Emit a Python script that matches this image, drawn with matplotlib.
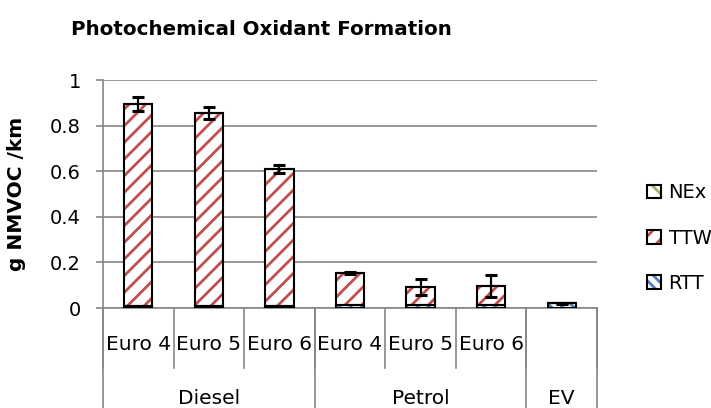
import numpy as np
import matplotlib
matplotlib.use("Agg")
import matplotlib.pyplot as plt
from matplotlib.patches import Patch
from matplotlib.legend_handler import HandlerTuple

# ---- data ----
sub_labels = ["Euro 4", "Euro 5", "Euro 6", "Euro 4", "Euro 5", "Euro 6", ""]
groups = ["Diesel", "Petrol", "EV"]
group_sizes = [3, 3, 1]
rtt = [0.008, 0.008, 0.008, 0.012, 0.012, 0.012, 0.020]
ttw = [0.887, 0.847, 0.602, 0.141, 0.080, 0.084, 0.0]
nex = [0.0, 0.0, 0.0, 0.0, 0.0, 0.0, 0.0]
err = [0.030, 0.025, 0.018, 0.005, 0.037, 0.048, 0.004]

plt.rcParams['font.family'] = ['DejaVu Sans']
plt.rcParams['hatch.linewidth'] = 2.0

GRAY = '#868686'
RED = '#C0504D'
BLUE = '#4F81BD'
GREEN = '#9BBB59'

fig = plt.figure(figsize=(7.11, 4.08), dpi=100)
ax = fig.add_axes([103/711, 100/408, 494/711, 228/408])

x = np.arange(len(sub_labels)) + 0.5
w = 0.4
rtt = np.array(rtt); ttw = np.array(ttw); nex = np.array(nex)

series = [("RTT", rtt, BLUE, "\\\\\\"), ("TTW", ttw, RED, "//"), ("NEx", nex, GREEN, "\\\\")]
bottom = np.zeros(len(x))
for name, vals, col, hatch in series:
    ax.bar(x, vals, w, bottom=bottom, color='white', edgecolor=col, hatch=hatch,
           linewidth=0, zorder=3)
    ax.bar(x, vals, w, bottom=bottom, fill=False, edgecolor='black',
           linewidth=1.5, zorder=4)
    bottom = bottom + vals

ax.errorbar(x, bottom, yerr=err, fmt='none', ecolor='black', elinewidth=1.6,
            capsize=4.5, capthick=2.2, zorder=5)

ax.set_xlim(0, 7)
ax.set_ylim(0, 1)
ax.set_yticks(np.arange(0, 1.01, 0.2))
ax.set_yticklabels(["0", "0.2", "0.4", "0.6", "0.8", "1"])
ax.yaxis.grid(True, color=GRAY, linewidth=1.2, zorder=0)
ax.tick_params(axis='y', length=5, width=1.2, color=GRAY, labelsize=14, pad=11)
ax.tick_params(axis='x', length=0, labelbottom=False)
for s in ['top', 'right']:
    ax.spines[s].set_visible(False)
for s in ['left', 'bottom']:
    ax.spines[s].set_color(GRAY)
    ax.spines[s].set_linewidth(1.2)

ax.set_ylabel("g NMVOC /km", fontsize=14.5, fontweight='bold')
ax.yaxis.set_label_coords(-77/494, 0.5)

# ---- multi-level category axis ----
tr = ax.get_xaxis_transform()
sub_depth = -60/228
grp_depth = -100/228
for i in range(len(sub_labels) + 1):
    ax.plot([i, i], [0, sub_depth], transform=tr, color=GRAY, lw=1.2, clip_on=False)
for i, lab in enumerate(sub_labels):
    ax.text(i + 0.5, -36/228, lab, transform=tr, ha='center', va='center', fontsize=14.5)
edges = np.concatenate([[0], np.cumsum(group_sizes)])
for e in edges:
    ax.plot([e, e], [0, grp_depth], transform=tr, color=GRAY, lw=1.2, clip_on=False)
for g, a, b in zip(groups, edges[:-1], edges[1:]):
    ax.text((a + b) / 2, -90/228, g, transform=tr, ha='center', va='center', fontsize=14.5)

# ---- title ----
fig.text(71/711, 1 - 35/408, "Photochemical Oxidant Formation", fontsize=14.3,
         fontweight='bold', ha='left', va='baseline')

# ---- legend ----
handles = []
for name, vals, col, hatch in series[::-1]:
    handles.append((Patch(facecolor='white', edgecolor=col, hatch=hatch, linewidth=0),
                    Patch(fill=False, edgecolor='black', linewidth=1.5)))
labels = [s[0] for s in series[::-1]]
fig.legend(handles, labels, handler_map={tuple: HandlerTuple(ndivide=1)},
           loc='center left', bbox_to_anchor=(639/711, 1 - 238/408), frameon=False,
           fontsize=14, handlelength=0.72, handleheight=0.72, handletextpad=0.4,
           labelspacing=1.35, borderaxespad=0)

fig.savefig("out.png", dpi=100)
